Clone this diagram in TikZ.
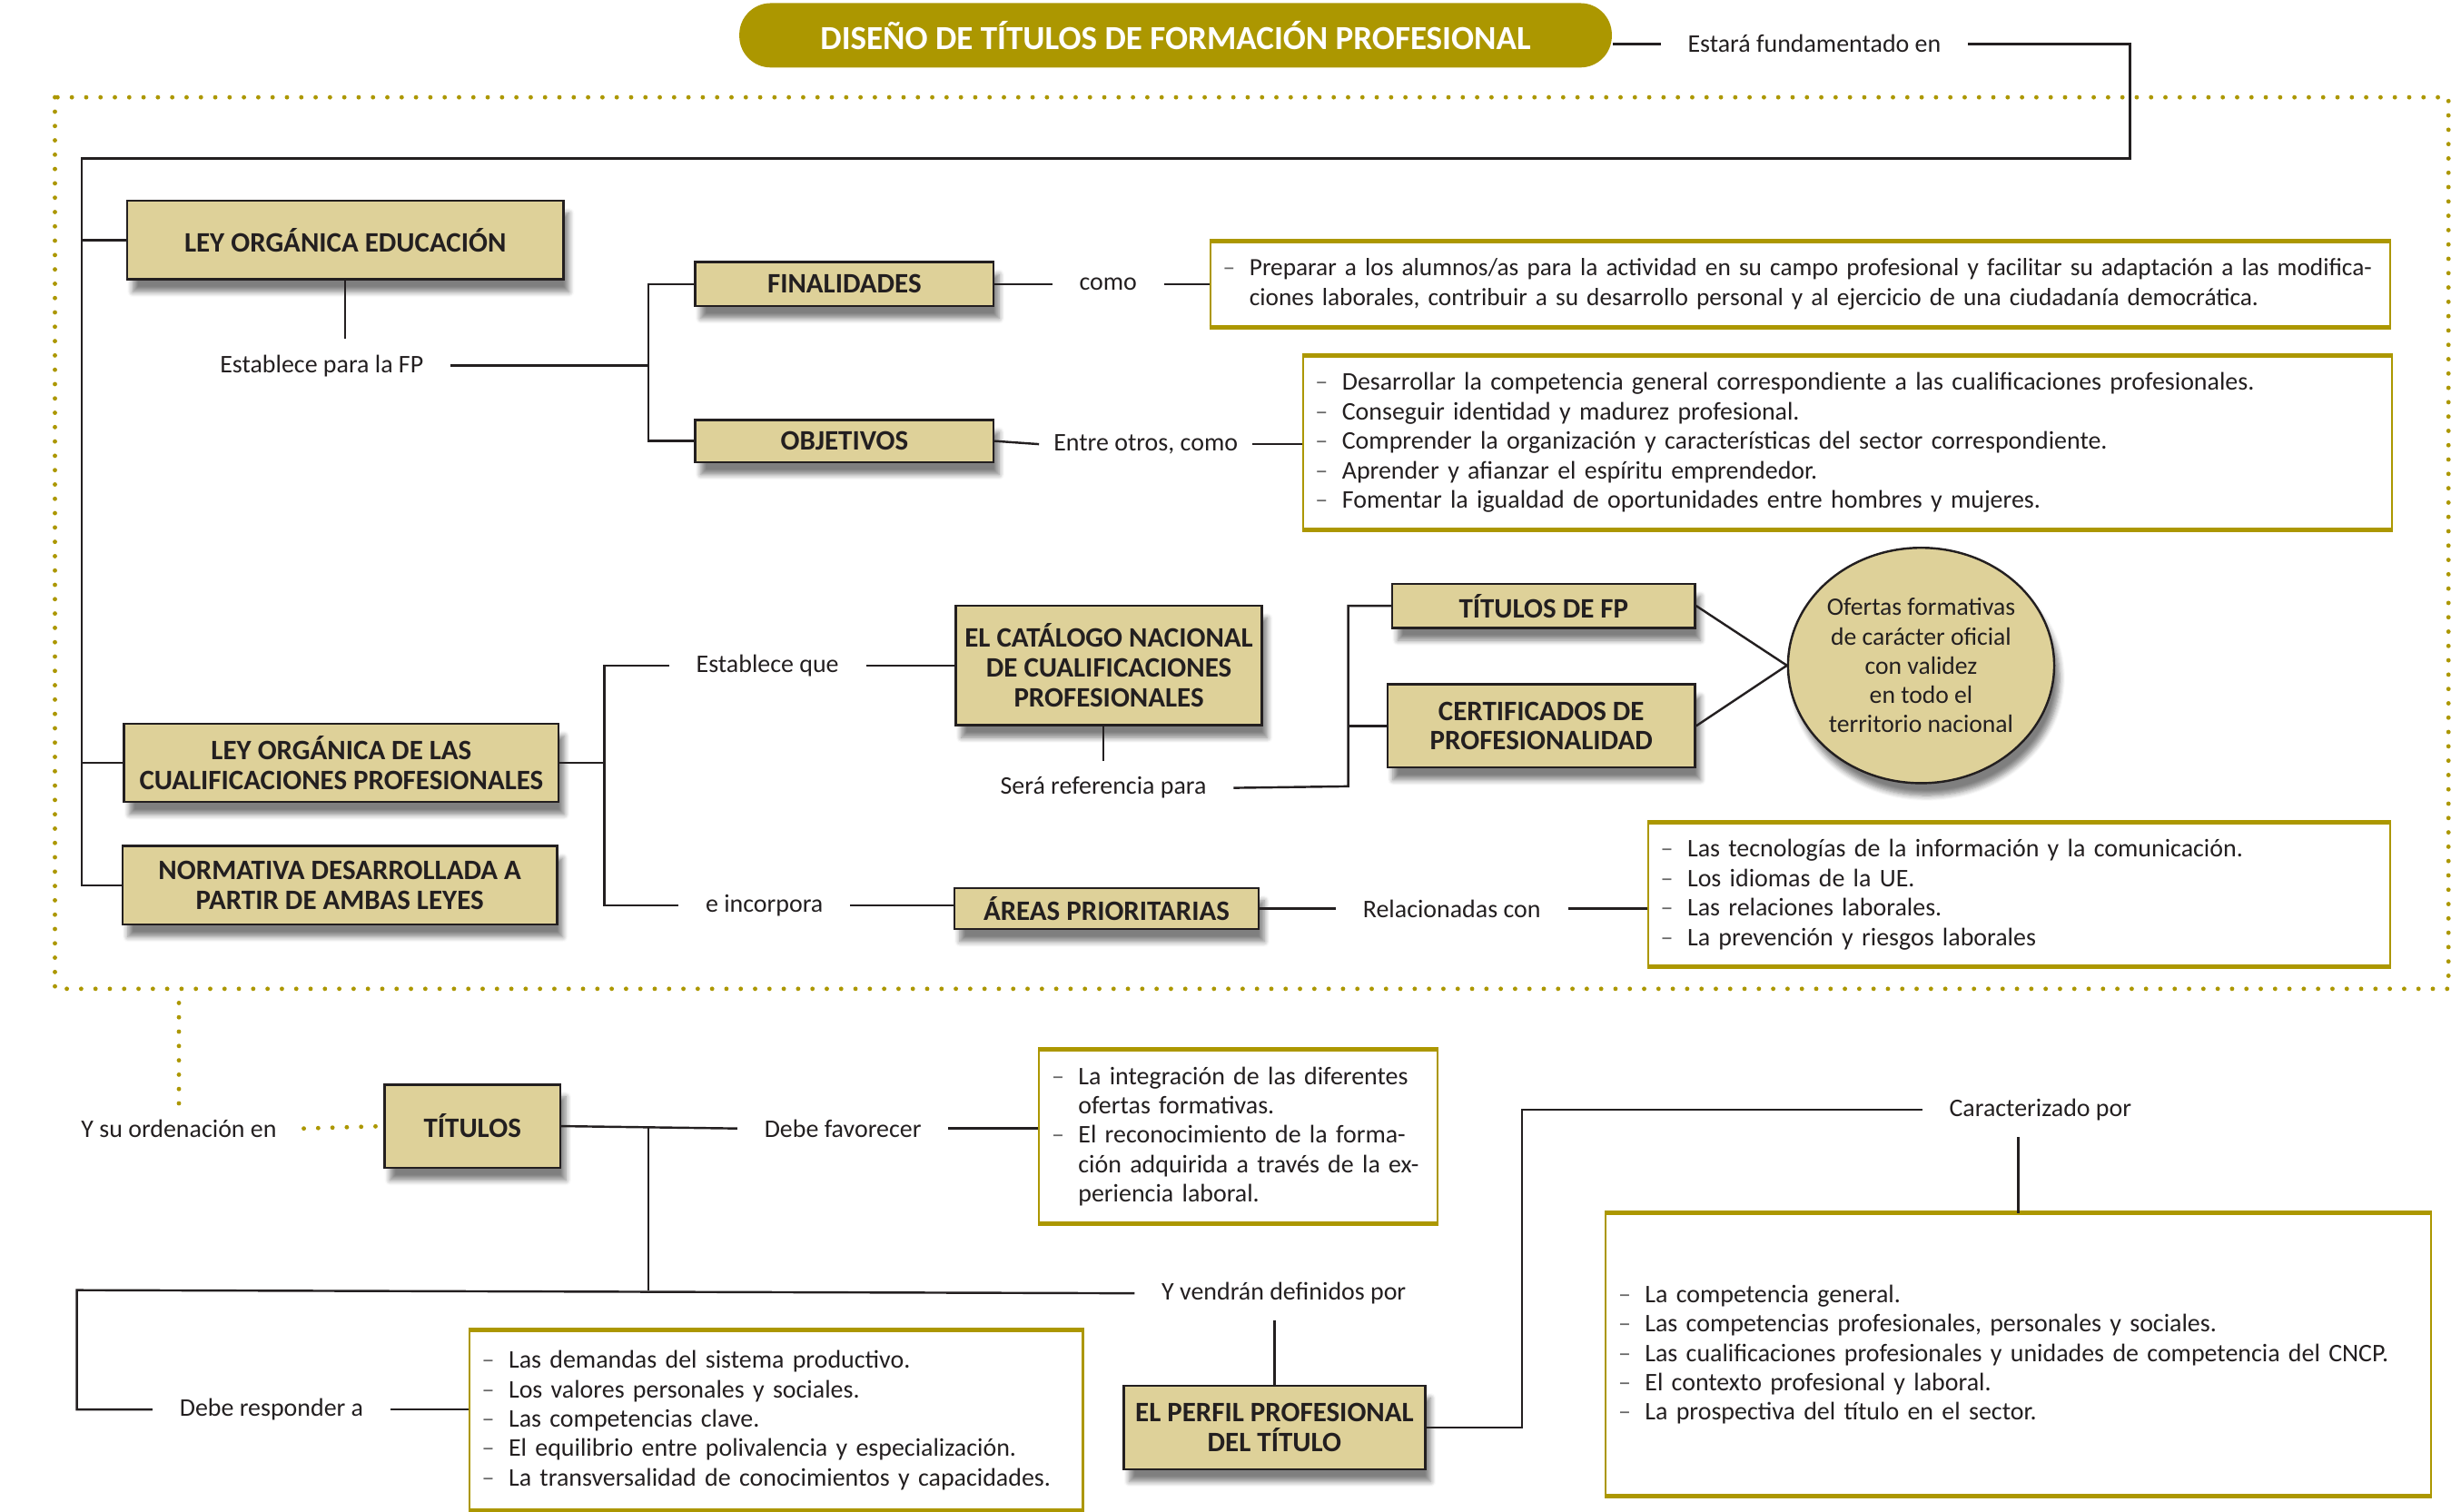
\documentclass[tikz,border=0pt]{standalone}
\usepackage{fontspec}
\setmainfont{Carlito}
\usetikzlibrary{shapes.geometric, shadows.blur, positioning}
\definecolor{oliva}{RGB}{172,151,0}
\definecolor{arena}{RGB}{222,209,153}
\definecolor{tinta}{RGB}{35,31,32}
\newcommand{\guion}{\makebox[0.34cm][l]{\color{black!60}\textendash}}
\newcommand{\sigue}{\hspace*{0.34cm}}

\begin{document}
\begin{tikzpicture}[x=0.02cm, y=-0.02cm,
    caja/.style={draw=tinta, fill=arena, line width=0.8pt, inner sep=0pt, align=center,
      font=\fontsize{10.2}{10.8}\selectfont\bfseries, text=tinta,
      blur shadow={shadow xshift=2pt, shadow yshift=-4.5pt, shadow opacity=50, shadow blur steps=6}},
    lista/.style={draw=oliva, fill=white, line width=0.7pt, inner xsep=0.16cm, inner ysep=0pt,
      align=left, font=\fontsize{9.2}{10.66}\selectfont, text=tinta},
    etiq/.style={inner xsep=0.34cm, inner ysep=0.2cm, font=\fontsize{9.2}{10.66}\selectfont, text=tinta},
    linea/.style={draw=tinta, line width=0.8pt},
    puntos/.style={draw=oliva, line width=1.6pt, line cap=round, dash pattern=on 0pt off 5.2pt}]
  \useasboundingbox (0,0) rectangle (1568,963);
  \draw[puntos] (35,62) rectangle (1560,630);

  \node[fill=oliva, rounded corners=0.4cm, minimum width=11.12cm, minimum height=0.82cm, inner sep=0pt,
    text=white, font=\fontsize{12.2}{13}\selectfont\bfseries] (titulo) at (749,22.5)
    {DISEÑO DE TÍTULOS DE FORMACIÓN PROFESIONAL};
  \node[etiq] (estara) at (1156,28) {Estará fundamentado en};

  \node[caja, minimum width=5.56cm, minimum height=1cm] (leyedu) at (220,153) {LEY ORGÁNICA EDUCACIÓN};
  \node[etiq] (estfp) at (205,233) {Establece para la FP};
  \node[caja, minimum width=3.8cm, minimum height=0.56cm] (fin) at (538,181) {FINALIDADES};
  \node[caja, minimum width=3.8cm, minimum height=0.54cm] (obj) at (538,281) {OBJETIVOS};
  \node[etiq] (como) at (706,181) {como};
  \node[etiq, inner xsep=0.18cm] (entre) at (730,283) {Entre otros, como};
  \node[lista, text width=14.72cm, minimum height=1.08cm, font=\fontsize{9}{10.66}\selectfont] (lfin) at (1147,181)
    {\guion Preparar a los alumnos/as para la actividad en su campo profesional y facilitar su adaptación a las modifica-\\
     \sigue ciones laborales, contribuir a su desarrollo personal y al ejercicio de una ciudadanía democrática.};
  \node[lista, text width=13.56cm, minimum height=2.2cm] (lobj) at (1177,282)
    {\guion Desarrollar la competencia general correspondiente a las cualificaciones profesionales.\\
     \guion Conseguir identidad y madurez profesional.\\
     \guion Comprender la organización y características del sector correspondiente.\\
     \guion Aprender y afianzar el espíritu emprendedor.\\
     \guion Fomentar la igualdad de oportunidades entre hombres y mujeres.};

  \node[caja, minimum width=5.54cm, minimum height=1cm] (leycual) at (217.5,486)
    {LEY ORGÁNICA DE LAS\\CUALIFICACIONES PROFESIONALES};
  \node[caja, minimum width=5.54cm, minimum height=1cm] (normat) at (216.5,564)
    {NORMATIVA DESARROLLADA A\\PARTIR DE AMBAS LEYES};
  \node[etiq] (estque) at (489,424) {Establece que};
  \node[etiq] (eincorp) at (487,577) {e incorpora};
  \node[caja, minimum width=3.9cm, minimum height=1.52cm] (catalogo) at (706.5,424)
    {EL CATÁLOGO NACIONAL\\DE CUALIFICACIONES\\PROFESIONALES};
  \node[etiq] (serref) at (703,502) {Será referencia para};
  \node[caja, minimum width=3.86cm, minimum height=0.56cm] (titfp) at (983.5,386) {TÍTULOS DE FP};
  \node[caja, minimum width=3.92cm, minimum height=1.06cm] (certif) at (982,462.5)
    {CERTIFICADOS DE\\PROFESIONALIDAD};
  \node[caja, ellipse, minimum width=3.24cm, minimum height=3cm, font=\fontsize{9.1}{10.6}\selectfont]
    (ofertas) at (1224,424)
    {Ofertas formativas\\de carácter oficial\\con validez\\en todo el\\territorio nacional};
  \node[caja, minimum width=3.88cm, minimum height=0.52cm] (areas) at (705,579) {ÁREAS PRIORITARIAS};
  \node[etiq] (relac) at (925,579) {Relacionadas con};
  \node[lista, text width=9.14cm, minimum height=1.82cm] (lareas) at (1286.5,570)
    {\guion Las tecnologías de la información y la comunicación.\\
     \guion Los idiomas de la UE.\\
     \guion Las relaciones laborales.\\
     \guion La prevención y riesgos laborales};

  \node[etiq] (orden) at (114,719) {Y su ordenación en};
  \node[caja, minimum width=2.24cm, minimum height=1.06cm] (titulos) at (301,717.5) {TÍTULOS};
  \node[etiq] (favor) at (537,719) {Debe favorecer};
  \node[lista, text width=4.76cm, minimum height=2.2cm] (lfav) at (789,724)
    {\guion La integración de las diferentes\\
     \sigue ofertas formativas.\\
     \guion El reconocimiento de la forma-\\
     \sigue ción adquirida a través de la ex-\\
     \sigue periencia laboral.};
  \node[etiq] (vendran) at (818,824) {Y vendrán definidos por};
  \node[etiq] (respond) at (173,898) {Debe responder a};
  \node[lista, text width=7.5cm, minimum height=2.28cm] (lresp) at (494.5,905)
    {\guion Las demandas del sistema productivo.\\
     \guion Los valores personales y sociales.\\
     \guion Las competencias clave.\\
     \guion El equilibrio entre polivalencia y especialización.\\
     \guion La transversalidad de conocimientos y capacidades.};
  \node[caja, minimum width=3.84cm, minimum height=1.06cm] (perfil) at (812,909.5)
    {EL PERFIL PROFESIONAL\\DEL TÍTULO};
  \node[etiq] (caract) at (1300,707) {Caracterizado por};
  \node[lista, text width=10.2cm, minimum height=3.58cm] (lcar) at (1286,863)
    {\guion La competencia general.\\
     \guion Las competencias profesionales, personales y sociales.\\
     \guion Las cualificaciones profesionales y unidades de competencia del CNCP.\\
     \guion El contexto profesional y laboral.\\
     \guion La prospectiva del título en el sector.};

  \foreach \n in {lfin,lobj,lareas,lfav,lresp,lcar}
    \draw[oliva, line width=1.6pt] (\n.north west) -- (\n.north east) (\n.south west) -- (\n.south east);

  \coordinate (jr) at (1357,101);
  \coordinate (jl) at (52,101);
  \coordinate (b1) at (413,233);
  \coordinate (b2) at (385,486);
  \coordinate (b3) at (859,501);
  \coordinate (b4) at (413,822);
  \coordinate (b5) at (49,822);
  \coordinate (marco) at (114,630);

  \draw[linea] (estara.west) -- (estara.west -| titulo.east);
  \draw[linea] (estara.east) -| (jr) -- (jl) |- (normat.west);
  \draw[linea] (jl |- leyedu.west) -- (leyedu.west);
  \draw[linea] (jl |- leycual.west) -- (leycual.west);
  \draw[linea] (leyedu.south) -- (leyedu.south |- estfp.north);
  \draw[linea] (estfp.east) -- (b1);
  \draw[linea] (fin.west) -| (b1) |- (obj.west);
  \draw[linea] (fin.east) -- (como.west);
  \draw[linea] (como.east) -- (como.east -| lfin.west);
  \draw[linea] (obj.east) -- (entre.west);
  \draw[linea] (entre.east) -- (entre.east -| lobj.west);
  \draw[linea] (leycual.east) -- (b2);
  \draw[linea] (estque.west) -| (b2) |- (eincorp.west);
  \draw[linea] (estque.east) -- (estque.east -| catalogo.west);
  \draw[linea] (serref.north) -- (serref.north |- catalogo.south);
  \draw[linea] (serref.east) -- (b3) |- (titfp.west);
  \draw[linea] (b3 |- certif.west) -- (certif.west);
  \draw[linea] (titfp.east) -- (ofertas.west);
  \draw[linea] (certif.east) -- (ofertas.west);
  \draw[linea] (eincorp.east) -- (eincorp.east -| areas.west);
  \draw[linea] (relac.west -| areas.east) -- (relac.west);
  \draw[linea] (relac.east) -- (relac.east -| lareas.west);
  \draw[puntos] (orden.north) -- (orden.north |- marco);
  \draw[puntos] (orden.east) -- (titulos.west);
  \draw[linea] (titulos.east) -- (favor.west);
  \draw[linea] (favor.east) -- (favor.east -| lfav.west);
  \draw[linea] (b4 |- titulos.east) -- (b4);
  \draw[linea] (vendran.west) -- (b5) |- (respond.west);
  \draw[linea] (respond.east) -- (respond.east -| lresp.west);
  \draw[linea] (vendran.south -| perfil.north) -- (perfil.north);
  \draw[linea] (perfil.east) -- ++(61,0) |- (caract.west);
  \draw[linea] (lcar.north) -- (lcar.north |- caract.south);
\end{tikzpicture}
\end{document}
